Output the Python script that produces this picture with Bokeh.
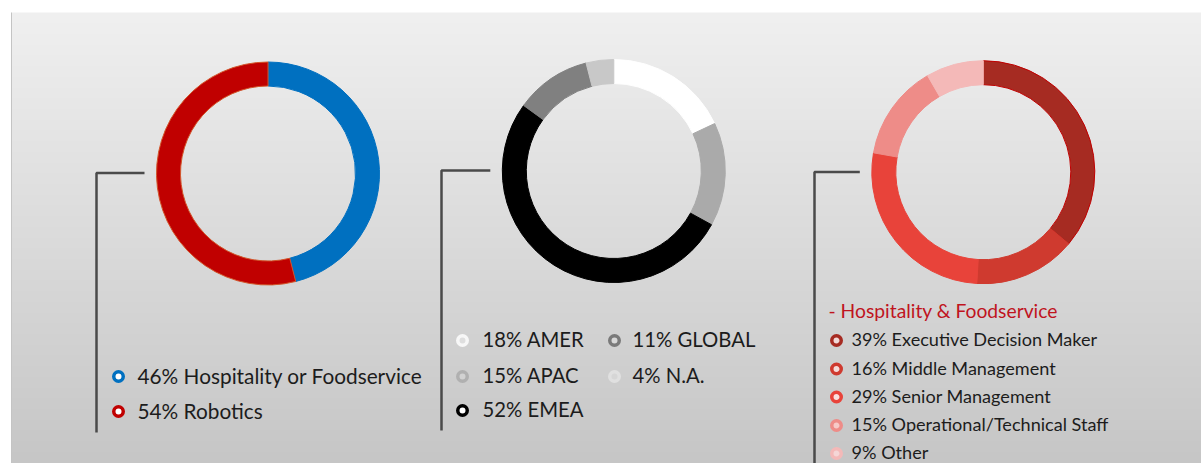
import numpy as np
from bokeh.plotting import figure
from bokeh.models import Range1d
from bokeh.embed import file_html
from bokeh.resources import INLINE
from bokeh.core.properties import value

# ---------------- data ----------------
c1_labels = ["Hospitality or Foodservice", "Robotics"]
c1_values = [46, 54]

c2_labels = ["AMER", "APAC", "EMEA", "GLOBAL", "N.A."]
c2_values = [18, 15, 52, 11, 4]

c3_title = "- Hospitality & Foodservice"
c3_labels = ["Executive Decision Maker", "Middle Management", "Senior Management",
             "Operational/Technical Staff", "Other"]
c3_values = [39, 16, 29, 15, 9]

# ---------------- palettes ----------------
c1_colors = ["#0070c0", "#c00000"]
c1_lines = ["#0070c0", "#d2552a"]
c2_colors = ["#ffffff", "#aaaaaa", "#000000", "#808080", "#c8c8c8"]
c2_ring = ["#f7f7f7", "#b0b0b0", "#000000", "#7a7a7a", "#e0e0e0"]
c2_fill = ["#dedede", "#d2d2d2", "#ffffff", "#d8d8d8", "#d6d6d6"]
c3_colors = ["#a62b22", "#cf3a2f", "#e8433a", "#ee8c88", "#f4b9b8"]
c3_lines = ["#c00000", "#cf3a2f", "#e8433a", "#ee8c88", "#f4b9b8"]
c3_fill = ["#f2d8d6", "#f6dcda", "#fae0de", "#f7c9c7", "#f5d6d6"]

W, H = 1201, 463
FONT = "Lato"
TXT = "#1c1c1c"
TXT_DY = 1.2  # lift text slightly to centre glyphs on markers

p = figure(width=W, height=H, x_range=Range1d(0, W), y_range=Range1d(0, H),
           output_backend="svg", toolbar_location=None,
           x_axis_location=None, y_axis_location=None, min_border=0)
p.grid.visible = False
p.outline_line_color = None
p.background_fill_color = "white"
p.border_fill_color = "white"

# background gradient panel
px0, py0 = 11, 12  # panel left / top (screen px)
ph = H - py0
top = np.array([240, 240, 240], float)
bot = np.array([198, 198, 198], float)
t = np.linspace(0, 1, ph)[:, None]  # row 0 = bottom
cols = (bot * (1 - t) + top * t).astype(np.uint32)
img = np.zeros((ph, 1), dtype=np.uint32)
view = img.view(dtype=np.uint8).reshape((ph, 1, 4))
view[:, :, 0] = cols[:, 0:1]
view[:, :, 1] = cols[:, 1:2]
view[:, :, 2] = cols[:, 2:3]
view[:, :, 3] = 255
p.image_rgba(image=[img], x=px0, y=0, dw=W - px0, dh=ph)
p.line(x=[px0, px0], y=[0, H - py0], line_color="#c4c4c4", line_width=1)


def Y(y):
    return H - y


R_OUT, R_IN = 111.5, 87.5


def donut(cx, cy, vals, fills, lines):
    v = np.array(vals, float)
    frac = v / v.sum()
    ends = np.cumsum(frac)
    starts = ends - frac
    p.annular_wedge(x=cx, y=Y(cy), inner_radius=R_IN, outer_radius=R_OUT,
                    start_angle=np.pi / 2 - starts * 2 * np.pi,
                    end_angle=np.pi / 2 - ends * 2 * np.pi,
                    direction="clock", fill_color=fills, line_color=lines,
                    line_width=1)


def bracket(bx, cx, cy, ybot):
    p.line(x=[cx - R_OUT - 12, bx, bx], y=[Y(cy), Y(cy), Y(ybot)],
           line_color="#4a4a4a", line_width=2.5)


def legend(xm, xt, ys, labels, vals, ring, fill, size):
    texts = ["%d%% %s" % (v, l) for v, l in zip(vals, labels)]
    p.scatter(x=[xm] * len(ys), y=[Y(y) for y in ys], marker="circle", size=9.5,
              fill_color=fill, line_color=ring, line_width=3.5)
    p.text(x=[xt] * len(ys), y=[Y(y) + TXT_DY for y in ys], text=texts,
           text_font=value(FONT), text_font_size="%.1fpx" % size,
           text_color=TXT, text_baseline="middle", text_align="left")


# chart 1
d1 = (267.5, 173)
donut(*d1, c1_values, c1_colors, c1_lines)
bracket(96, d1[0], 172.5, 432)
legend(118, 137, [376, 411], c1_labels, c1_values, c1_colors,
       ["#ffffff", "#ffffff"], 20.8)

# chart 2
d2 = (613.3, 170.5)
donut(*d2, c2_values, c2_colors, c2_colors)
bracket(441, d2[0], 170, 430)
legend(462, 482, [340, 376, 410], [c2_labels[i] for i in (0, 1, 2)],
       [c2_values[i] for i in (0, 1, 2)], [c2_ring[i] for i in (0, 1, 2)],
       [c2_fill[i] for i in (0, 1, 2)], 20.3)
legend(614, 632, [340, 376], [c2_labels[i] for i in (3, 4)],
       [c2_values[i] for i in (3, 4)], [c2_ring[i] for i in (3, 4)],
       [c2_fill[i] for i in (3, 4)], 20.3)

# chart 3
d3 = (982.8, 171.7)
donut(*d3, c3_values, c3_colors, c3_lines)
bracket(814, d3[0], 171.5, H)
p.text(x=[828], y=[Y(311) + TXT_DY], text=[c3_title], text_font=value(FONT),
       text_font_size="19.3px", text_color="#c0141e", text_baseline="middle")
legend(836, 851, [340, 368.5, 396.5, 425, 453], c3_labels, c3_values,
       c3_colors, c3_fill, 18.1)

open("out.html", "w").write(file_html(p, INLINE))
